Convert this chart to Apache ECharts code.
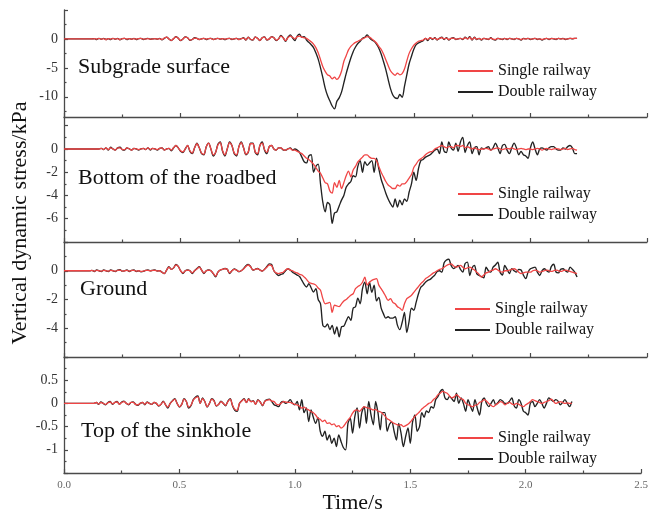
<!DOCTYPE html>
<html>
<head>
<meta charset="utf-8">
<script src="https://cdn.jsdelivr.net/npm/echarts@6/dist/echarts.min.js"></script>
<style>
html,body{margin:0;padding:0;background:#fff;}
#chart{width:651px;height:517px;}
</style>
</head>
<body>
<div id="chart"></div>
<script>
// Time grid: samples every 0.01 s from 0.00 s to 2.20 s
const timeStep = 0.01;
const seriesNames = ['Single railway', 'Double railway'];
const panelNames = ['Subgrade surface', 'Bottom of the roadbed', 'Ground', 'Top of the sinkhole'];
const xTitle = 'Time/s';
const yTitle = 'Vertical dynamic stress/kPa';

// Panel 1: Subgrade surface (kPa)
const subgradeSingle = [
0,0,0,0,0,0,0,0,0,0,
0,0,0,0.05,-0.05,0.1,-0.05,0.05,-0.1,0.05,
-0.05,0.1,-0.05,0.05,-0.1,0.05,0.1,-0.05,0.05,-0.05,
0.05,-0.05,0.05,0.1,-0.05,0,0.05,-0.05,0,0.05,
-0.05,0.05,-0.1,0.15,0.3,0,-0.25,0.05,0.35,0.1,
-0.25,0,0.3,0.2,-0.2,-0.1,0.15,0.1,-0.1,0,
0.1,-0.05,0.05,0.1,-0.1,0,0.1,-0.05,0.05,-0.05,
0.05,0.1,-0.05,0,0.1,-0.1,0.05,0.15,-0.15,0.25,
-0.05,-0.15,0.3,0.1,-0.25,0.2,0.3,-0.15,0,0.35,
0.2,-0.2,0,0.5,0.2,-0.3,0.2,0.5,0.3,0,
0.4,0.5,0.3,0.2,0.1,-0.2,-0.5,-0.9,-1.5,-2.4,
-3.6,-4.8,-5.6,-6.2,-6.4,-6.9,-6.6,-7.0,-6.6,-5.6,
-3.9,-2.9,-1.9,-1.3,-0.9,-0.6,-0.4,-0.2,0,0.2,
0.4,0.3,0,-0.3,-0.7,-1.3,-1.8,-2.6,-3.6,-4.6,
-5.5,-6.0,-6.3,-5.9,-6.2,-6.0,-5.2,-3.8,-2.5,-1.7,
-1.1,-0.7,-0.4,-0.3,-0.2,0.1,-0.1,0.2,0,0.15,
-0.1,0.1,0.2,0,0.15,-0.1,0.1,0.15,-0.05,0,
0.1,-0.05,0.2,0,0.25,-0.1,0.2,-0.05,0.1,-0.1,
0.1,0,-0.05,0.15,-0.05,-0.1,0.1,0,-0.05,0.1,
-0.05,0.1,0,-0.05,0.1,0,-0.1,0.05,0,0.1,
-0.05,0,0.1,-0.05,0,-0.1,0,0.1,-0.05,0.05,
0.05,-0.05,0.1,0,0.05,-0.05,0,0.1,0.05,0.1,
0.1];
const subgradeDouble = [
0,0,0,0,0,0,0,0,0,0,
0,0,0,0.05,-0.1,0.1,-0.05,0.1,-0.1,0.05,
-0.1,0.1,-0.05,0.1,-0.15,0.05,0.1,-0.1,0.05,-0.05,
0.1,-0.1,0.05,0.1,-0.1,0,0.1,-0.05,0,0.05,
-0.05,0.1,-0.15,0.1,0.3,0,-0.3,0.05,0.4,0.1,
-0.3,0,0.35,0.2,-0.25,-0.1,0.2,0.1,-0.1,0,
0.1,-0.1,0.05,0.1,-0.1,0,0.1,-0.05,0.05,-0.1,
0.05,0.1,-0.1,0,0.1,-0.1,0.05,0.2,-0.2,0.3,
-0.1,-0.2,0.35,0.1,-0.3,0.2,0.35,-0.2,0,0.4,
0.2,-0.3,0,0.6,0.2,-0.4,0.3,0.7,0.2,-0.3,
0.5,0.8,0.3,0.4,-0.2,-0.6,-1.0,-1.5,-2.4,-3.5,
-5.0,-6.7,-8.5,-9.8,-10.7,-11.6,-12.1,-10.8,-10.2,-9.2,
-7.6,-6.0,-4.6,-3.3,-2.2,-1.4,-0.8,-0.4,0.1,0.3,
0.7,0.2,-0.2,-0.4,-0.9,-1.6,-2.6,-3.9,-5.3,-7.0,
-8.6,-9.7,-10.2,-10.3,-9.6,-10.1,-8.2,-6.2,-4.3,-3.0,
-1.8,-1.0,-0.7,-0.5,-0.3,0.1,-0.3,0.2,-0.1,0.2,
-0.2,0.1,0.3,-0.1,0.2,-0.2,0.1,0.2,-0.1,0,
0.1,-0.1,0.3,0,0.4,-0.2,0.3,-0.1,0.1,-0.2,
0.1,0,-0.1,0.2,-0.1,-0.2,0.1,0,-0.1,0.1,
-0.1,0.1,0,-0.1,0.1,0,-0.2,0.1,0,0.1,
-0.1,0,0.1,-0.1,0,-0.2,0,0.1,-0.1,0.1,
0,-0.1,0.1,0,0.1,-0.1,0,0.1,0,0.1,
0.1];

// Panel 2: Bottom of the roadbed (kPa)
const roadbedSingle = [
0,0,0,0,0,0,0,0,0,0,
0,0,0,0,0,0,0.05,-0.05,0.1,-0.05,
0.1,0,-0.1,0.1,0.1,-0.05,-0.05,0.1,0,-0.1,
0.05,0,-0.05,0,0.05,-0.05,0.1,-0.05,0.05,0,
-0.05,0.05,0.1,-0.1,0,0.05,-0.1,0.1,0.3,0.1,
-0.15,-0.25,0,0.3,-0.15,-0.35,0.1,0.45,0.1,-0.35,
-0.45,0.2,0.5,0,-0.5,-0.3,0.35,0.55,-0.15,-0.5,
0,0.55,0.3,-0.35,-0.5,0.2,0.55,0.1,-0.45,-0.25,
0.45,0.45,-0.25,-0.4,0.3,0.5,-0.05,-0.3,0.2,0.3,
0,-0.1,0.1,0.1,-0.05,-0.1,0,0.05,-0.1,-0.1,
-0.2,-0.3,-0.4,-0.6,-0.8,-0.9,-1.1,-1.3,-1.6,-1.9,
-2.1,-2.5,-2.9,-3.0,-3.6,-3.8,-2.9,-3.3,-2.7,-3.4,
-2.9,-2.3,-1.9,-2.4,-1.8,-1.5,-1.1,-0.9,-0.7,-0.5,
-0.5,-0.7,-0.8,-0.8,-1.0,-1.5,-2.0,-2.4,-2.8,-3.1,
-3.25,-3.4,-3.4,-3.1,-3.2,-3.0,-3.0,-2.8,-2.5,-2.2,
-1.6,-1.3,-1.0,-0.85,-0.7,-0.5,-0.35,-0.25,-0.2,0,
0.1,0.2,0.3,0.2,0.1,0.2,0.2,0.1,0.3,0.3,
0.2,0.3,0.1,0.2,0.1,0,0.1,0,-0.05,0,
0,0.05,0,-0.1,0,0.05,0.1,0,-0.05,0,
0.05,0,0.1,0,-0.05,0,0.05,0,-0.05,0,
0,-0.05,0,0.05,0,-0.1,0,0.05,0,-0.05,
0,0.05,0,-0.05,0,0.05,-0.05,0,0.05,-0.05,
-0.1];
const roadbedDouble = [
0,0,0,0,0,0,0,0,0,0,
0,0,0,0,0,0,0.05,-0.05,0.1,-0.1,
0.15,0,-0.1,0.1,0.15,-0.05,-0.1,0.1,0,-0.1,
0.05,0,-0.1,0,0.05,-0.05,0.1,-0.1,0.05,0,
-0.1,0.05,0.1,-0.1,0,0.05,-0.15,0.1,0.3,0.1,
-0.2,-0.3,0,0.3,-0.2,-0.4,0.1,0.5,0.1,-0.4,
-0.5,0.2,0.5,0,-0.6,-0.3,0.4,0.6,-0.2,-0.6,
0,0.6,0.3,-0.4,-0.6,0.2,0.6,0.1,-0.5,-0.3,
0.5,0.5,-0.3,-0.5,0.3,0.6,-0.1,-0.4,0.2,0.3,
0,-0.1,0.1,0.1,-0.1,-0.1,0,0.1,-0.1,0,
-0.1,-0.3,-0.7,-1.1,-1.2,-0.6,-0.5,-2.0,-1.5,-1.3,
-3.0,-4.6,-5.4,-4.6,-4.8,-6.4,-5.5,-5.4,-4.9,-4.4,
-4.0,-3.3,-3.0,-2.8,-2.3,-2.4,-1.5,-1.0,-2.0,-1.1,
-1.4,-1.2,-1.0,-2.0,-0.8,-1.7,-2.6,-3.2,-3.8,-4.3,
-4.7,-5.0,-4.3,-5.0,-4.4,-4.8,-4.3,-4.5,-3.7,-3.0,
-2.0,-2.7,-1.7,-1.0,-0.9,-0.7,-0.6,-0.5,-0.3,-0.1,
0,-0.4,0.6,-0.2,-0.3,0.6,0.1,-0.1,0.5,-0.2,
0.6,1.0,-0.3,0.3,0.6,-0.4,0.1,0.2,-0.5,0.1,
0,0.1,0.2,-0.1,0.1,0.5,0.1,-0.4,0.3,0.4,
-0.1,-0.4,0.1,0.5,0.1,-0.5,-0.2,-0.5,-0.6,-0.8,
0.1,0.6,0,-0.5,0,0.1,0,-0.1,0.1,0.2,
0.2,0,-0.1,-0.1,0.1,0,0.2,0.3,0.1,-0.4,
-0.4];

// Panel 3: Ground (kPa)
const groundSingle = [
0,0,0,0,0,0,0,0,0,0,
0,0,0.02,-0.03,0.03,0,-0.03,0.03,0,-0.03,
0.03,0,-0.03,0.03,0.05,-0.02,0,0.03,-0.03,0.02,
0.03,-0.03,0,-0.05,-0.03,0.02,0.03,0,0.02,0.03,
-0.02,0,-0.1,-0.2,0.05,0.25,0.1,0.2,0.4,0.3,
0,-0.15,0,0.05,0,-0.15,0,0.12,0.25,0.05,
-0.15,0,0.05,0,-0.18,-0.38,-0.1,0.05,0.1,0.14,
0.1,-0.15,0,0.1,0.05,-0.05,0,0.12,0.3,0.4,
0.28,0.05,0.1,0.14,0.05,-0.02,0.1,0.25,0.4,0.37,
0,-0.15,-0.2,-0.15,-0.1,0.05,0.14,0.05,0,-0.1,
-0.15,-0.25,-0.3,-0.44,-0.6,-0.8,-0.88,-0.92,-1.0,-1.2,
-1.36,-1.94,-2.3,-2.25,-2.2,-2.9,-2.4,-2.45,-2.5,-2.3,
-2.1,-2.0,-1.85,-1.7,-1.6,-1.25,-1.1,-1.0,-0.8,-0.44,
-1.0,-0.8,-0.67,-0.6,-0.55,-1.0,-1.25,-1.5,-1.8,-2.06,
-1.94,-2.2,-2.3,-2.5,-2.6,-2.75,-2.3,-1.94,-1.83,-1.7,
-1.5,-1.3,-1.1,-0.9,-0.75,-0.55,-0.45,-0.33,-0.2,-0.1,
0,0.1,0.14,0.25,0.37,0.45,0.48,0.35,0.25,0.3,
0.37,0.25,0.14,0.2,0.25,0.15,0.05,-0.1,-0.25,-0.44,
-0.3,-0.15,-0.1,0,0.05,0.14,0.05,-0.05,-0.1,0,
0,0.05,0.1,0.14,0.05,-0.1,-0.2,-0.15,-0.1,-0.1,
-0.1,0,0.05,0,-0.1,-0.05,0,0.05,0,-0.05,
0,0.05,0,-0.05,0,0.05,0,-0.05,-0.1,-0.15,
-0.2];
const groundDouble = [
0,0,0,0,0,0,0,0,0,0,
0,0,0.03,-0.05,0.05,0,-0.05,0.05,0,-0.05,
0.05,0,-0.05,0.05,0.07,-0.03,0,0.05,-0.05,0.03,
0.05,-0.05,0,-0.08,-0.05,0.03,0.05,0,0.03,0.05,
-0.02,0,-0.1,-0.2,0.05,0.28,0.1,0.2,0.44,0.3,
0,-0.19,0,0.05,0,-0.19,0,0.15,0.28,0.05,
-0.19,0,0.05,0,-0.2,-0.42,-0.1,0.05,0.1,0.16,
0.1,-0.19,0,0.12,0.05,-0.07,0,0.15,0.35,0.44,
0.3,0.05,0.1,0.16,0.05,-0.02,0.1,0.3,0.48,0.44,
0,-0.2,-0.33,-0.25,-0.2,0,0.14,0.05,-0.1,-0.2,
-0.3,-0.4,-0.67,-0.95,-1.13,-0.9,-1.2,-1.48,-1.25,-2.0,
-2.3,-3.8,-3.9,-3.7,-4.1,-3.8,-4.4,-3.9,-4.6,-3.9,
-3.85,-3.5,-3.2,-3.45,-2.6,-2.5,-1.9,-2.3,-1.25,-0.8,
-1.6,-0.8,-1.5,-1.0,-2.1,-1.85,-2.6,-3.0,-3.3,-3.2,
-3.3,-3.3,-3.2,-3.8,-4.1,-3.6,-2.9,-4.3,-3.5,-2.6,
-2.75,-2.2,-1.6,-1.15,-1.0,-0.8,-0.67,-0.6,-0.45,-0.3,
-0.05,0,-0.1,0.55,0.75,0.8,0.37,0.15,0.25,0.37,
0.1,-0.1,0.5,0.6,-0.33,0.2,0.37,-0.2,-0.33,-0.4,
-0.5,0.25,0,-0.1,0.25,0.4,0.6,-0.1,-0.3,0.37,
0.1,-0.2,0.14,0,-0.1,0.1,0.05,-0.3,-0.55,-0.1,
0.14,0.2,0.25,-0.1,-0.33,0,0.14,0,-0.1,0.3,
0.45,-0.1,-0.15,0.1,0.14,0,-0.1,0.25,0.1,-0.1,
-0.44];

// Panel 4: Top of the sinkhole (kPa)
const sinkholeSingle = [
0,0,0,0,0,0,0,0,0,0,
0,0,0,0,0.02,-0.01,0.02,0,-0.02,0.01,
0.03,-0.01,0.02,0.03,-0.02,0.02,0.04,0,-0.02,0.02,
0.02,-0.02,-0.03,0,0.02,-0.02,0.02,0,-0.02,0.02,
0,-0.05,-0.02,0.04,-0.03,-0.08,0,0.05,0.09,0,
-0.07,-0.02,0.09,0.04,-0.08,-0.04,0.07,0.12,0.14,0,
0.1,0.04,-0.07,0,0.09,0.05,-0.05,-0.02,0.04,0,
-0.04,0.04,0.09,-0.04,-0.13,-0.15,0,0.05,0.09,0.02,
0.09,0.04,0.05,-0.02,0.07,0.03,-0.04,0.04,0.07,0.08,
0.05,0.04,-0.02,-0.03,0,0.04,0.03,0.02,0.02,0,
-0.02,-0.03,-0.06,-0.1,-0.08,-0.12,-0.14,-0.18,-0.2,-0.25,
-0.32,-0.34,-0.39,-0.36,-0.43,-0.42,-0.46,-0.44,-0.5,-0.48,
-0.53,-0.5,-0.43,-0.36,-0.3,-0.21,-0.15,-0.14,-0.17,-0.12,
-0.07,-0.09,-0.1,-0.12,-0.14,-0.13,-0.17,-0.18,-0.22,-0.27,
-0.33,-0.36,-0.4,-0.43,-0.45,-0.47,-0.46,-0.5,-0.48,-0.45,
-0.4,-0.34,-0.28,-0.23,-0.18,-0.12,-0.08,-0.04,0,0.02,
0.08,0.12,0.19,0.22,0.26,0.24,0.22,0.16,0.12,0.14,
0.19,0.15,0.1,0.08,0,-0.03,-0.05,-0.07,-0.04,-0.03,
0.02,0.04,0.08,0.05,0,-0.04,-0.07,-0.03,0,0.04,
0.02,-0.03,0,0.02,-0.01,-0.03,0,-0.02,-0.05,-0.07,
-0.03,0,0.04,0.08,0.06,0.04,0.02,0,0.02,0.04,
0.06,0.09,0.05,0,0.02,0.04,0.02,0,0.01,0,
0];
const sinkholeDouble = [
0,0,0,0,0,0,0,0,0,0,
0,0,0,0,0.02,-0.02,0.03,0,-0.03,0.02,
0.04,-0.02,0.02,0.04,-0.02,0.03,0.05,0,-0.03,0.02,
0.03,-0.02,-0.04,0,0.02,-0.03,0.03,0,-0.02,0.02,
0,-0.06,-0.02,0.05,-0.03,-0.1,0,0.06,0.1,0,
-0.08,-0.02,0.1,0.04,-0.1,-0.05,0.08,0.14,0.16,0,
0.12,0.04,-0.08,0,0.1,0.06,-0.06,-0.02,0.05,0,
-0.05,0.05,0.1,-0.05,-0.15,-0.17,0,0.06,0.1,0.02,
0.1,0.04,0.06,-0.02,0.08,0.03,-0.05,0.05,0.08,0.09,
0.04,-0.03,-0.05,-0.07,0.02,0.04,0,0.03,0.08,0,
-0.03,0.04,-0.14,0.08,-0.2,-0.1,-0.39,-0.14,-0.3,-0.43,
-0.3,-0.6,-0.71,-0.6,-0.79,-0.68,-0.86,-0.75,-0.93,-0.68,
-0.82,-0.95,-1.0,-0.43,-0.32,-0.64,-0.28,-0.1,-0.53,-0.2,
-0.07,-0.43,0.04,-0.25,-0.46,0.04,-0.2,-0.57,-0.2,-0.2,
-0.6,-0.45,-0.4,-0.6,-0.79,-0.43,-0.64,-0.93,-0.71,-0.53,
-0.86,-0.4,-0.25,-0.6,-0.5,-0.2,-0.3,-0.16,-0.2,-0.07,
-0.1,0.08,0.15,0.26,0.3,0.12,0.08,0.15,0.1,0.04,
0.22,0,0.12,0,-0.17,0.08,-0.05,-0.17,0.08,-0.1,
-0.25,0.04,0.12,0,-0.07,0,0.08,-0.03,0.02,0.08,
0.05,0,0,0.05,0.12,-0.05,-0.1,0.08,0,-0.17,
-0.2,-0.25,0,0.04,-0.07,0,0.08,0,-0.1,0,
0.12,0.08,0.04,0.08,0.05,-0.03,0.02,0.08,0,-0.07,
0.04];

// Axis ranges and tick values per panel
const yRanges = [[-13.5, 5], [-8, 2.75], [-6, 2], [-1.5, 1]];
const yMajorTicks = [[5, 0, -5, -10], [2, 0, -2, -4, -6, -8], [2, 0, -2, -4, -6], [1, 0.5, 0, -0.5, -1, -1.5]];
const yTickLabels = [[0, -5, -10], [0, -2, -4, -6], [0, -2, -4], [0.5, 0, -0.5, -1]];
const yMinorTicks = [[2.5, -2.5, -7.5, -12.5], [1, -1, -3, -5, -7], [1, -1, -3, -5], [0.75, 0.25, -0.25, -0.75, -1.25]];
const xTickLabels = [0, 0.5, 1.0, 1.5, 2.0, 2.5];

const singleData = [subgradeSingle, roadbedSingle, groundSingle, sinkholeSingle];
const doubleData = [subgradeDouble, roadbedDouble, groundDouble, sinkholeDouble];

// Layout
const FONT = "'Liberation Serif', 'Times New Roman', serif";
const AXIS_COLOR = '#4a4a4a';
const RED = '#f04545';
const BLACK = '#222222';
const gridBoxes = [
  {top: 10, height: 107},
  {top: 117, height: 125},
  {top: 242, height: 115},
  {top: 357, height: 116}
];
const labelPos = [[78, 67], [78, 178], [80, 289], [81, 431]];
const legendPos = [[453, 58], [453, 181], [450, 296], [453, 425]];

function toPairs(arr) {
  return arr.map((v, i) => [Math.round(i * timeStep * 100) / 100, v]);
}

const grids = gridBoxes.map(b => ({left: 64, width: 583, top: b.top, height: b.height, containLabel: false}));

const xAxes = gridBoxes.map((b, i) => ({
  type: 'value', gridIndex: i, min: 0, max: 2.5, interval: 0.5, position: 'bottom',
  axisLine: {show: true, onZero: false, lineStyle: {color: AXIS_COLOR, width: 1.3}},
  axisTick: {show: true, inside: true, length: 4, lineStyle: {color: AXIS_COLOR, width: 1.2}},
  minorTick: {show: true, splitNumber: 2, length: 2.5, lineStyle: {color: AXIS_COLOR, width: 1.2}},
  splitLine: {show: false},
  axisLabel: {
    show: i === 3, fontSize: 11, color: '#666', fontFamily: FONT, margin: 7,
    customValues: xTickLabels,
    formatter: v => v.toFixed(1)
  },
  name: i === 3 ? xTitle : '',
  nameLocation: 'middle', nameGap: 17,
  nameTextStyle: {fontSize: 22, color: '#111', fontFamily: FONT}
}));

const yAxes = [];
yRanges.forEach((r, i) => {
  yAxes.push({
    type: 'value', gridIndex: i, min: r[0], max: r[1], position: 'left',
    axisLine: {show: true, onZero: false, lineStyle: {color: AXIS_COLOR, width: 1.3}},
    axisTick: {show: true, inside: true, length: 4, customValues: yMajorTicks[i], lineStyle: {color: AXIS_COLOR, width: 1.2}},
    axisLabel: {show: true, customValues: yTickLabels[i], fontSize: 14, color: '#333', fontFamily: FONT, margin: 6},
    splitLine: {show: false}
  });
});
yRanges.forEach((r, i) => {
  yAxes.push({
    type: 'value', gridIndex: i, min: r[0], max: r[1], position: 'left',
    axisLine: {show: false, onZero: false},
    axisTick: {show: true, inside: true, length: 2.5, customValues: yMinorTicks[i], lineStyle: {color: AXIS_COLOR, width: 1.2}},
    axisLabel: {show: false},
    splitLine: {show: false}
  });
});

const series = [];
for (let i = 0; i < 4; i++) {
  series.push({
    name: seriesNames[1], type: 'line', xAxisIndex: i, yAxisIndex: i,
    data: toPairs(doubleData[i]), showSymbol: false, symbol: 'none', smooth: 0.3,
    lineStyle: {color: BLACK, width: 1.35}, itemStyle: {color: BLACK}, z: 2
  });
  series.push({
    name: seriesNames[0], type: 'line', xAxisIndex: i, yAxisIndex: i,
    data: toPairs(singleData[i]), showSymbol: false, symbol: 'none', smooth: 0.3,
    lineStyle: {color: RED, width: 1.3}, itemStyle: {color: RED}, z: 3
  });
}

const legends = legendPos.map(p => ({
  left: p[0], top: p[1], orient: 'vertical', itemGap: 5, itemWidth: 35, itemHeight: 2,
  icon: 'rect', data: seriesNames, selectedMode: false,
  textStyle: {fontSize: 16, color: '#111', fontFamily: FONT}
}));

const graphics = panelNames.map((t, i) => ({
  type: 'text', x: labelPos[i][0], y: labelPos[i][1],
  style: {text: t, font: '22px ' + FONT, fill: '#111', textAlign: 'left', textVerticalAlign: 'middle'}
}));
graphics.push({
  type: 'text', x: 20, y: 223, rotation: Math.PI / 2,
  style: {text: yTitle, font: '22px ' + FONT, fill: '#111', textAlign: 'center', textVerticalAlign: 'middle'}
});

const chart = echarts.init(document.getElementById('chart'), null, {renderer: 'canvas'});
chart.setOption({
  animation: false,
  backgroundColor: '#ffffff',
  grid: grids,
  xAxis: xAxes,
  yAxis: yAxes,
  legend: legends,
  graphic: graphics,
  series: series
});
</script>
</body>
</html>
